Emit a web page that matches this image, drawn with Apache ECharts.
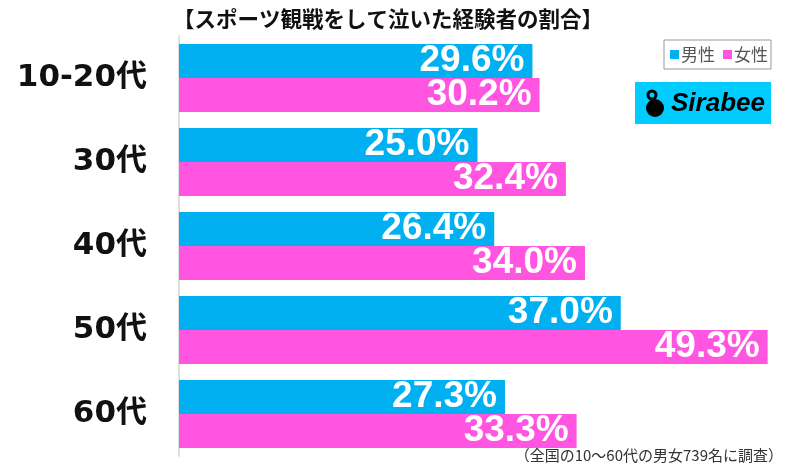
<!DOCTYPE html>
<html>
<head>
<meta charset="utf-8">
<script src="https://cdn.jsdelivr.net/npm/echarts@6/dist/echarts.min.js"></script>
<style>html,body{margin:0;padding:0;background:#fff;}#c{width:800px;height:466px;}</style>
</head>
<body>
<div id="c"></div>
<script>
const categories = ['10-20代', '30代', '40代', '50代', '60代'];
const male = [29.6, 25.0, 26.4, 37.0, 27.3];
const female = [30.2, 32.4, 34.0, 49.3, 33.3];
const seriesNames = ['男性', '女性'];
const titleText = '【スポーツ観戦をして泣いた経験者の割合】';
const noteText = '（全国の10〜60代の男女739名に調査）';

const chart = echarts.init(document.getElementById('c'), null, {renderer: 'canvas'});
const labelStyle = {
  show: true,
  position: 'insideRight',
  distance: 8,
  color: '#fff',
  fontFamily: 'Liberation Sans, Arial, sans-serif',
  fontWeight: 'bold',
  fontSize: 37,
  formatter: p => p.value.toFixed(1) + '%'
};
chart.setOption({
  animation: false,
  backgroundColor: '#fff',
  title: {
    text: titleText,
    left: 168,
    top: 3,
    textStyle: {fontFamily: 'Noto Sans CJK JP', fontWeight: 'bold', fontSize: 21.5, color: '#111'}
  },
  legend: {
    data: seriesNames,
    right: 29,
    top: 40,
    orient: 'horizontal',
    itemWidth: 9,
    itemHeight: 9,
    itemGap: 8,
    padding: [6, 3, 6, 6],
    borderColor: '#999',
    borderWidth: 1,
    icon: 'rect',
    textStyle: {fontFamily: 'Noto Sans CJK JP', fontSize: 17, color: '#555', padding: [0, 0, 0, -3]}
  },
  grid: {left: 179, top: 36, width: 597, height: 420, containLabel: false},
  xAxis: {
    type: 'value', min: 0, max: 50, show: false
  },
  yAxis: {
    type: 'category',
    data: categories,
    inverse: true,
    axisLine: {show: true, lineStyle: {color: '#e0e0e0', width: 2}},
    axisTick: {show: false},
    axisLabel: {
      margin: 32,
      color: '#111',
      fontFamily: 'DejaVu Sans, Noto Sans CJK JP',
      fontWeight: 'bold',
      fontSize: 31
    }
  },
  series: [
    {name: seriesNames[0], type: 'bar', data: male, barWidth: 34, barGap: '0%',
     itemStyle: {color: '#00B0F0'}, label: labelStyle},
    {name: seriesNames[1], type: 'bar', data: female, barWidth: 34, barGap: '0%',
     itemStyle: {color: '#FF55E1'}, label: labelStyle}
  ],
  graphic: [
    {type: 'rect', left: 635, top: 82, shape: {width: 136, height: 42}, style: {fill: '#00CCFF'}},
    {type: 'circle', shape: {cx: 655, cy: 108, r: 9}, style: {fill: '#000'}},
    {type: 'circle', shape: {cx: 652, cy: 95, r: 4}, style: {fill: 'none', stroke: '#000', lineWidth: 3}},
    {type: 'text', left: 671, top: 91, style: {text: 'Sirabee', fill: '#000', font: 'italic bold 26px Liberation Sans, Arial, sans-serif'}},
    {type: 'text', right: 17, top: 448, style: {text: noteText, fill: '#333', font: '15px Noto Sans CJK JP'}}
  ]
});
</script>
</body>
</html>
